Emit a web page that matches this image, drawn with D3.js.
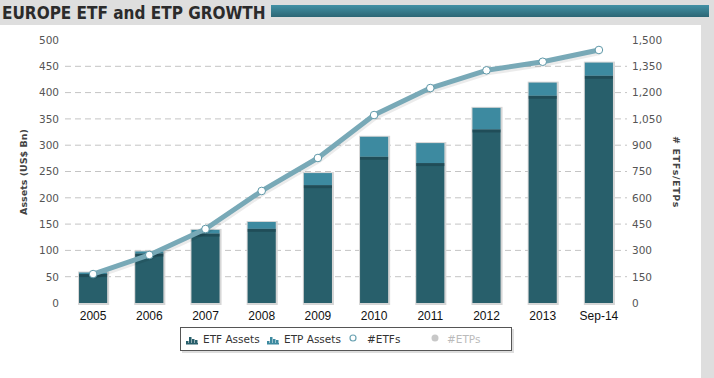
<!DOCTYPE html>
<html>
<head>
<meta charset="utf-8">
<script src="https://cdn.jsdelivr.net/npm/d3@7"></script>
<style>
  body { margin: 0; background: #dedede; }
  svg { display: block; }
</style>
</head>
<body>
<svg id="chart" width="714" height="378"></svg>
<script>
// data
const years = ["2005", "2006", "2007", "2008", "2009", "2010", "2011", "2012", "2013", "Sep-14"];
const etfAssets = [55, 94, 132, 141, 224, 278, 266, 330, 394, 432];
const etpAssets = [3, 4, 7, 13, 23, 38, 38, 41, 25, 25];
const etfCount = [165, 274, 422, 639, 827, 1072, 1226, 1327, 1376, 1443];
const leftTicks = [0, 50, 100, 150, 200, 250, 300, 350, 400, 450, 500];
const rightTicks = [0, 150, 300, 450, 600, 750, 900, 1050, 1200, 1350, 1500];

const svg = d3.select("#chart");
const plotLeft = 65, plotRight = 627, plotTop = 40, plotBottom = 303;

const defs = svg.append("defs");
const grad = defs.append("linearGradient").attr("id", "hdr").attr("x1", 0).attr("x2", 0).attr("y1", 0).attr("y2", 1);
grad.append("stop").attr("offset", "0%").attr("stop-color", "#4291a5");
grad.append("stop").attr("offset", "100%").attr("stop-color", "#2c6675");

// white panel
svg.append("rect").attr("x", 0).attr("y", 25).attr("width", 701).attr("height", 353).attr("fill", "#fff");

// header
svg.append("text")
  .attr("x", 2).attr("y", 19)
  .attr("font-family", "'DejaVu Sans Condensed', 'Liberation Sans Narrow', sans-serif")
  .attr("font-weight", "bold")
  .attr("font-size", 17)
  .attr("fill", "#2b2b2b")
  .text("EUROPE ETF and ETP GROWTH");
svg.append("rect").attr("x", 271).attr("y", 5).attr("width", 438).attr("height", 12).attr("fill", "url(#hdr)");

const x = d3.scaleBand().domain(years).range([plotLeft, plotRight]).paddingInner(0.5).paddingOuter(0.25);
const y = d3.scaleLinear().domain([0, 500]).range([plotBottom, plotTop]);
const y2 = d3.scaleLinear().domain([0, 1500]).range([plotBottom, plotTop]);

// grid
svg.append("g")
  .selectAll("line")
  .data(leftTicks.filter(d => d > 0 && d < 500))
  .join("line")
  .attr("x1", plotLeft).attr("x2", plotRight)
  .attr("y1", d => y(d)).attr("y2", d => y(d))
  .attr("stroke", "#c4c4c4")
  .attr("stroke-dasharray", "6,4");

// left axis
const yAxis = svg.append("g")
  .attr("transform", `translate(${plotLeft - 4},0)`)
  .call(d3.axisLeft(y).tickValues(leftTicks).tickSize(0).tickPadding(2));
yAxis.select(".domain").remove();
yAxis.selectAll("text").attr("font-family", "Verdana, 'DejaVu Sans', sans-serif").attr("font-size", 10.5).attr("fill", "#555");

// right axis
const y2Axis = svg.append("g")
  .attr("transform", `translate(${plotRight + 3},0)`)
  .call(d3.axisRight(y2).tickValues(rightTicks).tickSize(0).tickPadding(2).tickFormat(d3.format(",")));
y2Axis.select(".domain").remove();
y2Axis.selectAll("text").attr("font-family", "Verdana, 'DejaVu Sans', sans-serif").attr("font-size", 10.5).attr("fill", "#555");

// x axis labels
const xAxis = svg.append("g")
  .attr("transform", `translate(0,${plotBottom + 4})`)
  .call(d3.axisBottom(x).tickSize(0).tickPadding(4));
xAxis.select(".domain").remove();
xAxis.selectAll("text").attr("font-family", "Arial, 'Liberation Sans', sans-serif").attr("font-size", 12).attr("fill", "#111");

// axis titles
svg.append("text")
  .attr("transform", "translate(27,172) rotate(-90)")
  .attr("text-anchor", "middle")
  .attr("font-family", "Verdana, 'DejaVu Sans', sans-serif")
  .attr("font-weight", "bold").attr("font-size", 9.5).attr("fill", "#444")
  .text("Assets (US$ Bn)");
svg.append("text")
  .attr("transform", "translate(673,172) rotate(90)")
  .attr("text-anchor", "middle")
  .attr("font-family", "Verdana, 'DejaVu Sans', sans-serif")
  .attr("font-weight", "bold").attr("font-size", 9.5).attr("fill", "#444")
  .attr("letter-spacing", 0.6)
  .text("# ETFs/ETPs");

// bars
const bars = svg.append("g").selectAll("g").data(years).join("g");
bars.append("rect") // shadow
  .attr("x", d => x(d) - 1)
  .attr("y", (d, i) => y(etfAssets[i] + etpAssets[i]) - 1)
  .attr("width", x.bandwidth() + 3)
  .attr("height", (d, i) => plotBottom - y(etfAssets[i] + etpAssets[i]) + 3)
  .attr("fill", "#d6d6d6");
bars.append("rect")
  .attr("x", d => x(d))
  .attr("y", (d, i) => y(etfAssets[i]))
  .attr("width", x.bandwidth())
  .attr("height", (d, i) => plotBottom - y(etfAssets[i]))
  .attr("fill", "#285f6b");
bars.append("rect")
  .attr("x", d => x(d))
  .attr("y", (d, i) => y(etfAssets[i] + etpAssets[i]))
  .attr("width", x.bandwidth())
  .attr("height", (d, i) => y(etfAssets[i]) - y(etfAssets[i] + etpAssets[i]))
  .attr("fill", "#3d8aa0");
bars.append("rect") // shade under the ETP part
  .attr("x", d => x(d))
  .attr("y", (d, i) => y(etfAssets[i]))
  .attr("width", x.bandwidth())
  .attr("height", 3)
  .attr("fill", "#1d4650")
  .attr("opacity", 0.7);

// line
const line = d3.line().x((d, i) => x(years[i]) + x.bandwidth() / 2).y(d => y2(d));
svg.append("path").datum(etfCount)
  .attr("d", line).attr("fill", "none")
  .attr("stroke", "#000").attr("stroke-opacity", 0.08).attr("stroke-width", 6)
  .attr("transform", "translate(1,2)");
svg.append("path").datum(etfCount)
  .attr("d", line).attr("fill", "none")
  .attr("stroke", "#78a9b7").attr("stroke-width", 5)
  .attr("stroke-linejoin", "round");
svg.append("g").selectAll("circle").data(etfCount).join("circle")
  .attr("cx", (d, i) => x(years[i]) + x.bandwidth() / 2)
  .attr("cy", d => y2(d))
  .attr("r", 3.8)
  .attr("fill", "#fff")
  .attr("stroke", "#5e98a8").attr("stroke-width", 1);

// legend
const lg = svg.append("g");
lg.append("rect").attr("x", 182).attr("y", 329).attr("width", 332).attr("height", 24).attr("fill", "#ddd");
lg.append("rect").attr("x", 180.5).attr("y", 327.5).attr("width", 331).attr("height", 23)
  .attr("fill", "#fff").attr("stroke", "#555").attr("stroke-width", 1);

function barIcon(g, x0, col) {
  [[0, 3], [3, 7], [6, 5], [9, 4]].forEach(([dx, h]) => {
    g.append("rect").attr("x", x0 + dx).attr("y", 344 - h).attr("width", 2.5).attr("height", h).attr("fill", col);
  });
  g.append("rect").attr("x", x0).attr("y", 343).attr("width", 12).attr("height", 1.5).attr("fill", col);
}
const legendItems = [
  { name: "ETF Assets", tx: 203, color: "#333" },
  { name: "ETP Assets", tx: 284, color: "#333" },
  { name: "#ETFs", tx: 367, color: "#333" },
  { name: "#ETPs", tx: 447, color: "#bbb" }
];
barIcon(lg, 186, "#285f6b");
barIcon(lg, 267, "#3d8aa0");
lg.append("circle").attr("cx", 353).attr("cy", 338).attr("r", 3).attr("fill", "#fff").attr("stroke", "#6aa2b2").attr("stroke-width", 1.2);
lg.append("circle").attr("cx", 435).attr("cy", 338).attr("r", 3.5).attr("fill", "#c8c8c8");
lg.selectAll("text.lbl").data(legendItems).join("text")
  .attr("class", "lbl")
  .attr("x", d => d.tx).attr("y", 342.5)
  .attr("font-family", "Verdana, 'DejaVu Sans', sans-serif")
  .attr("font-size", 10.5)
  .attr("fill", d => d.color)
  .text(d => d.name);
</script>
</body>
</html>
